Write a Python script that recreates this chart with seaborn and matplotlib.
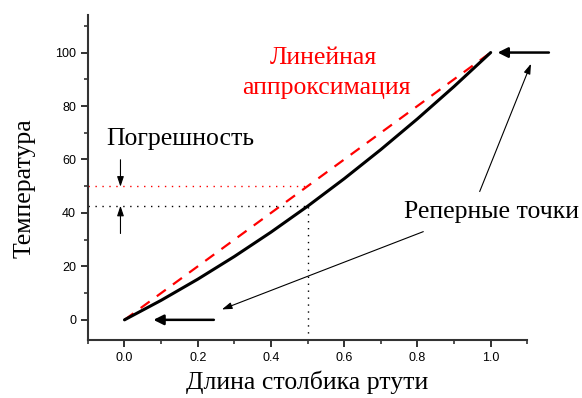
import numpy as np
import pandas as pd
import matplotlib.pyplot as plt
import seaborn as sns
from matplotlib.ticker import MultipleLocator

# Mercury column length (relative) vs temperature
length = [0.0, 0.1, 0.2, 0.3, 0.4, 0.5, 0.6, 0.7, 0.8, 0.9, 1.0]
temp_real = [0.0, 7.3, 15.2, 23.7, 32.8, 42.5, 52.8, 63.7, 75.2, 87.3, 100.0]
temp_linear = [0.0, 10.0, 20.0, 30.0, 40.0, 50.0, 60.0, 70.0, 80.0, 90.0, 100.0]

x_ticks = [0.0, 0.2, 0.4, 0.6, 0.8, 1.0]
y_ticks = [0, 20, 40, 60, 80, 100]

probe_x = 0.5
probe_real = 42.5
probe_linear = 50.0

df = pd.DataFrame({'length': length, 'real': temp_real, 'linear': temp_linear})

sns.set_style("ticks")
plt.rcParams['font.family'] = ['Liberation Sans', 'DejaVu Sans']
plt.rcParams['text.color'] = 'black'
plt.rcParams['axes.labelcolor'] = 'black'

fig, ax = plt.subplots(figsize=(5.82, 3.98), dpi=100)
fig.subplots_adjust(left=0.151, right=0.906, bottom=0.146, top=0.962)

sns.lineplot(data=df, x='length', y='linear', ax=ax, color='red', lw=1.6,
             linestyle=(0, (5, 4)))
sns.lineplot(data=df, x='length', y='real', ax=ax, color='black', lw=2.2)

ax.set_xlim(-0.1, 1.1)
ax.set_ylim(-7.5, 114)

# guide lines at x = 0.5
ax.plot([-0.1, probe_x], [probe_linear, probe_linear], color='red', lw=1, ls=(0, (1, 4)))
ax.plot([-0.1, probe_x], [probe_real, probe_real], color='black', lw=1, ls=(0, (1, 4)))
ax.plot([probe_x, probe_x], [-7.5, probe_real], color='black', lw=1, ls=(0, (1, 4)))

ax.set_xticks(x_ticks)
ax.set_yticks(y_ticks)
ax.xaxis.set_minor_locator(MultipleLocator(0.1))
ax.yaxis.set_minor_locator(MultipleLocator(10))
ax.tick_params(which='major', direction='out', length=5, width=1.3, labelsize=9, colors='#222222')
ax.tick_params(which='minor', direction='out', length=3, width=1.1, colors='#222222')
ax.tick_params(axis='both', labelcolor='black')
for s in ['top', 'right']:
    ax.spines[s].set_visible(False)
for s in ['left', 'bottom']:
    ax.spines[s].set_linewidth(1.5)
    ax.spines[s].set_color('#333333')

serif = ['Liberation Serif', 'DejaVu Serif']
fs = 18.5
ax.set_xlabel('Длина столбика ртути', family=serif, fontsize=fs, color='black')
ax.set_ylabel('Температура', family=serif, fontsize=fs, color='black')
ax.xaxis.set_label_coords(0.499, -0.095)
ax.yaxis.set_label_coords(-0.118, 0.466)

ax.text(0.542, 98.0, 'Линейная', color='red', family=serif, fontsize=fs, ha='center', va='center')
ax.text(0.551, 86.8, 'аппроксимация', color='red', family=serif, fontsize=fs, ha='center', va='center')
ax.text(0.151, 67.8, 'Погрешность', color='black', family=serif, fontsize=fs, ha='center', va='center')
ax.text(1.003, 40.5, 'Реперные точки', color='black', family=serif, fontsize=fs, ha='center', va='center')

thin = dict(arrowstyle='-|>,head_length=0.6,head_width=0.2', color='black', lw=0.8,
            mutation_scale=10, shrinkA=0, shrinkB=0)
thick = dict(arrowstyle='-|>,head_length=0.5,head_width=0.25', color='black', lw=1.8,
             mutation_scale=12, shrinkA=0, shrinkB=0)

ax.annotate('', xy=(-0.011, 49.8), xytext=(-0.011, 59.9), arrowprops=thin, annotation_clip=False)
ax.annotate('', xy=(-0.011, 42.7), xytext=(-0.011, 32.3), arrowprops=thin, annotation_clip=False)
ax.annotate('', xy=(1.019, 100), xytext=(1.159, 100), arrowprops=thick, annotation_clip=False)
ax.annotate('', xy=(1.110, 95.8), xytext=(0.970, 48.0), arrowprops=thin, annotation_clip=False)
ax.annotate('', xy=(0.266, 3.9), xytext=(0.816, 33.0), arrowprops=thin, annotation_clip=False)
ax.annotate('', xy=(0.079, 0), xytext=(0.244, 0), arrowprops=thick, annotation_clip=False)

fig.savefig('out.png', dpi=100)
